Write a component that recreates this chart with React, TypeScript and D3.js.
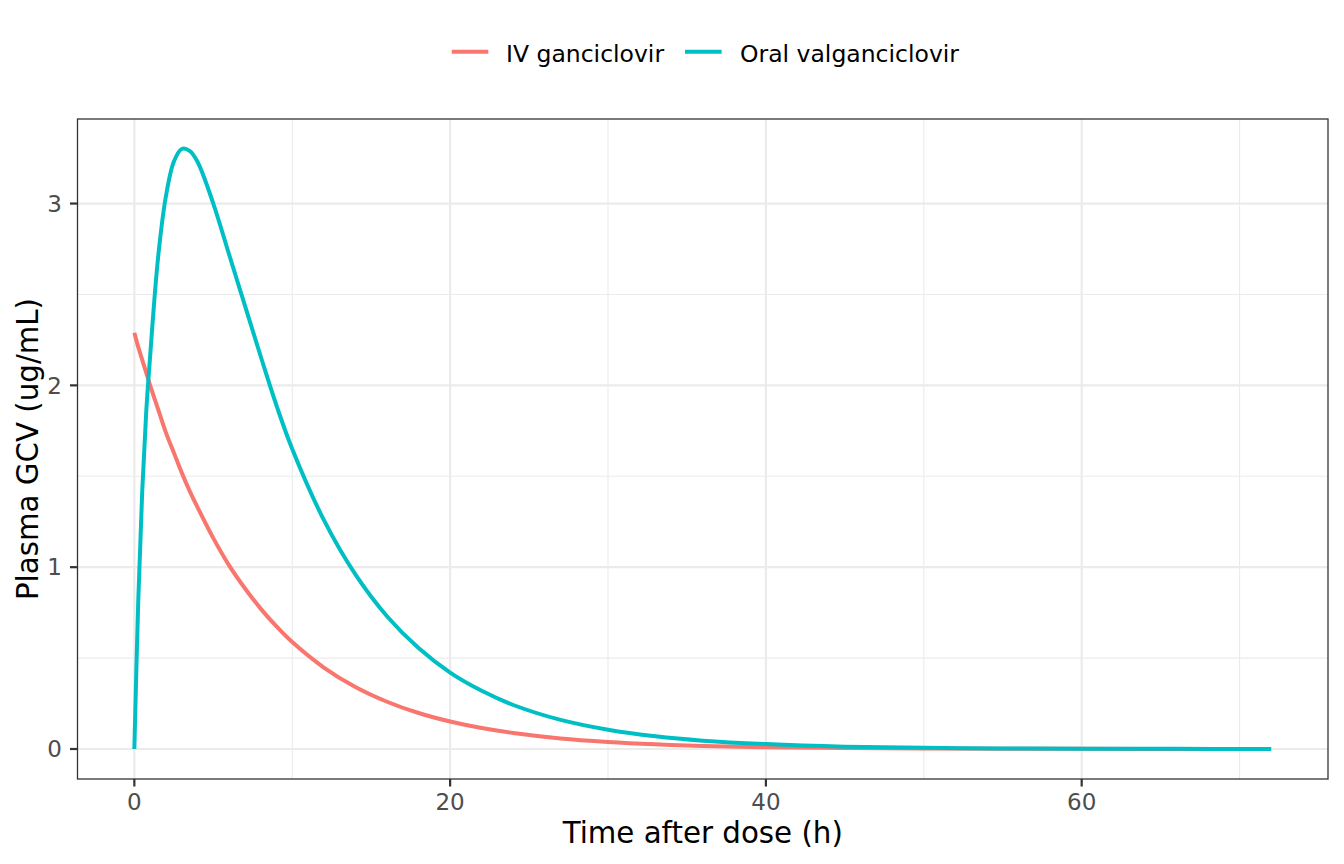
import { useEffect } from "react";
import * as d3 from "d3";

// time after dose (h)
const TIMES = [0, 0.25, 0.5, 0.75, 1, 1.5, 2, 2.5, 3, 3.5, 4, 5, 6, 7, 8, 9, 10, 12, 14, 16, 18, 20, 22, 24, 27, 30, 33, 36, 40, 45, 50, 55, 60, 66, 72];

// plasma GCV (ug/mL)
const IV_GCV = [2.29, 2.21, 2.14, 2.07, 2.0, 1.87, 1.74, 1.63, 1.52, 1.42, 1.33, 1.16, 1.01, 0.884, 0.772, 0.674, 0.588, 0.448, 0.341, 0.26, 0.198, 0.151, 0.115, 0.088, 0.058, 0.039, 0.026, 0.017, 0.01, 0.005, 0.0026, 0.0013, 0.0007, 0.0003, 0.0001];
const ORAL_VGCV = [0, 0.82, 1.42, 1.85, 2.16, 2.7, 3.04, 3.23, 3.3, 3.29, 3.23, 3.0, 2.72, 2.44, 2.16, 1.89, 1.65, 1.26, 0.96, 0.73, 0.555, 0.42, 0.32, 0.242, 0.16, 0.106, 0.07, 0.046, 0.027, 0.013, 0.0067, 0.0034, 0.0017, 0.0008, 0.0003];

const SERIES = ["IV ganciclovir", "Oral valganciclovir"];
const COLORS = ["#F8766D", "#00BFC4"];

const X_MAJOR = [0, 20, 40, 60];
const X_MINOR = [10, 30, 50, 70];
const Y_MAJOR = [0, 1, 2, 3];
const Y_MINOR = [0.5, 1.5, 2.5];

const W = 1344;
const H = 864;
const FONT = "'DejaVu Sans', sans-serif";

export default function App() {
	useEffect(() => {
		document.body.style.margin = "0";
	}, []);

	const left = 77.5, right = 1328, top = 119, bottom = 779;

	const x = d3.scaleLinear().domain([-3.6, 75.6]).range([left, right]);
	const y = d3.scaleLinear().domain([-0.165, 3.465]).range([bottom, top]);

	const line = d3.line<number>()
		.x((_, i) => x(TIMES[i]))
		.y(d => y(d))
		.curve(d3.curveCatmullRom.alpha(0.5));

	const seriesValues = [IV_GCV, ORAL_VGCV];

	// legend entries: key line start and text start
	const legendKeys = [451.7, 685];
	const legendText = [506, 740];

	return (
		<svg width={W} height={H} style={{ position: "absolute", left: 0, top: 0, background: "#fff" }} fontFamily={FONT}>
			<rect x={0} y={0} width={W} height={H} fill="#fff" />

			{/* grid */}
			{X_MINOR.map(v => (
				<line key={"xm" + v} x1={x(v)} x2={x(v)} y1={top} y2={bottom} stroke="#EBEBEB" strokeWidth={1.1} />
			))}
			{Y_MINOR.map(v => (
				<line key={"ym" + v} x1={left} x2={right} y1={y(v)} y2={y(v)} stroke="#EBEBEB" strokeWidth={1.1} />
			))}
			{X_MAJOR.map(v => (
				<line key={"xM" + v} x1={x(v)} x2={x(v)} y1={top} y2={bottom} stroke="#EBEBEB" strokeWidth={2.2} />
			))}
			{Y_MAJOR.map(v => (
				<line key={"yM" + v} x1={left} x2={right} y1={y(v)} y2={y(v)} stroke="#EBEBEB" strokeWidth={2.2} />
			))}

			{/* curves */}
			{seriesValues.map((vals, i) => (
				<path key={SERIES[i]} d={line(vals) ?? ""} fill="none" stroke={COLORS[i]} strokeWidth={4} strokeLinejoin="round" />
			))}

			{/* panel border */}
			<rect x={left} y={top} width={right - left} height={bottom - top} fill="none" stroke="#333333" strokeWidth={1.3} />

			{/* x axis */}
			{X_MAJOR.map(v => (
				<g key={"xt" + v}>
					<line x1={x(v)} x2={x(v)} y1={bottom} y2={bottom + 7.5} stroke="#333333" strokeWidth={2.2} />
					<text x={x(v)} y={810} textAnchor="middle" fontSize={23} fill="#4D4D4D">{v}</text>
				</g>
			))}
			<text x={(left + right) / 2} y={843} textAnchor="middle" fontSize={29.3} fill="#000">Time after dose (h)</text>

			{/* y axis */}
			{Y_MAJOR.map(v => (
				<g key={"yt" + v}>
					<line x1={left - 7.5} x2={left} y1={y(v)} y2={y(v)} stroke="#333333" strokeWidth={2.2} />
					<text x={62} y={y(v) + 8.3} textAnchor="end" fontSize={23} fill="#4D4D4D">{v}</text>
				</g>
			))}
			<text transform={`translate(38,${(top + bottom) / 2}) rotate(-90)`} textAnchor="middle" fontSize={29.3} fill="#000">Plasma GCV (ug/mL)</text>

			{/* legend */}
			{SERIES.map((s, i) => (
				<g key={"lg" + s}>
					<line x1={legendKeys[i]} x2={legendKeys[i] + 36.6} y1={51.7} y2={51.7} stroke={COLORS[i]} strokeWidth={4} />
					<text x={legendText[i]} y={61.7} fontSize={23.5} fill="#000">{s}</text>
				</g>
			))}
		</svg>
	);
}
